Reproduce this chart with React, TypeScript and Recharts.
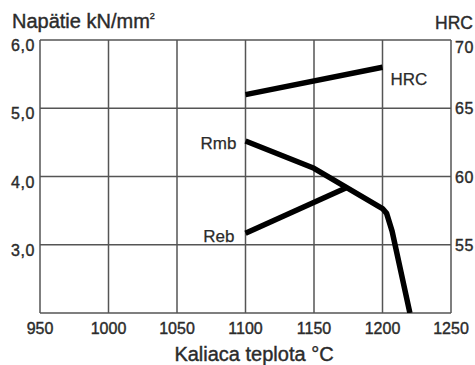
import {
  CartesianGrid,
  ComposedChart,
  LabelList,
  Line,
  XAxis,
  YAxis,
} from 'recharts';

// Kaliaca teplota (°C) vs. napätie Rmb / Reb (kN/mm²) a tvrdosť HRC
const xTicks = [950, 1000, 1050, 1100, 1150, 1200, 1250];
const leftTicks = [2, 3, 4, 5, 6];
const rightTicks = [50, 55, 60, 65, 70];

const hrcTemp = [1100, 1200];
const hrcValue = [66, 68];

const rmbTemp = [1100, 1150, 1200, 1203, 1207, 1220];
const rmbValue = [4.52, 4.12, 3.53, 3.46, 3.2, 2.0];

const rebTemp = [1100, 1174];
const rebValue = [3.17, 3.84];

const hrc = hrcTemp.map((t, i) => ({ t, v: hrcValue[i] }));
const rmb = rmbTemp.map((t, i) => ({ t, v: rmbValue[i] }));
const reb = rebTemp.map((t, i) => ({ t, v: rebValue[i] }));

const font = '"Liberation Sans", Arial, Helvetica, sans-serif';
const ink = '#2b2b2b';
// trochu hrubšie písmo ako v predlohe
const txt = { fontFamily: font, fill: ink, stroke: ink, strokeWidth: 0.4 };

const LeftTick = (props: any) => {
  const { x, y, payload } = props;
  if (payload.value === 2) return null;
  return (
    <text x={x} y={y + 11} textAnchor="end" fontSize={16} letterSpacing={0.6} {...txt}>
      {payload.value.toFixed(1).replace('.', ',')}
    </text>
  );
};

const RightTick = (props: any) => {
  const { x, y, payload } = props;
  if (payload.value === 50) return null;
  const dy = payload.value === 70 ? 13 : 6;
  return (
    <text x={x} y={y + dy} textAnchor="start" fontSize={16} letterSpacing={0.6} {...txt}>
      {payload.value}
    </text>
  );
};

const BottomTick = (props: any) => {
  const { x, y, payload } = props;
  return (
    <text x={x} y={y + 21} textAnchor="middle" fontSize={16} {...txt}>
      {payload.value}
    </text>
  );
};

const edgeLabel = (text: string, where: 'first' | 'last', count: number, dx: number, dy: number) =>
  (props: any) => {
    const { x, y, index } = props;
    const want = where === 'first' ? 0 : count - 1;
    if (index !== want) return null;
    return (
      <text
        x={x + dx}
        y={y + dy}
        textAnchor={where === 'first' ? 'end' : 'start'}
        fontSize={17}
        {...txt}
        strokeWidth={0.25}
      >
        {text}
      </text>
    );
  };

export default function App() {
  return (
    <div style={{ position: 'absolute', left: 0, top: 0, width: 475, height: 365, background: '#fff' }}>
      <ComposedChart
        width={475}
        height={365}
        margin={{ top: 40, right: 0, bottom: 0, left: 0 }}
        style={{ position: 'absolute', left: 0, top: 0 }}
      >
        <CartesianGrid stroke="#555" strokeWidth={1.5} horizontalValues={leftTicks} verticalValues={xTicks} yAxisId="left" />
        <XAxis
          type="number"
          dataKey="t"
          domain={[950, 1250]}
          ticks={xTicks}
          tick={<BottomTick />}
          tickLine={false}
          axisLine={false}
          tickSize={0}
          tickMargin={0}
          height={52}
          allowDataOverflow
        />
        <YAxis
          yAxisId="left"
          type="number"
          domain={[2, 6]}
          ticks={leftTicks}
          tick={<LeftTick />}
          tickLine={false}
          axisLine={false}
          tickSize={0}
          tickMargin={5}
          width={40}
          allowDataOverflow
        />
        <YAxis
          yAxisId="right"
          orientation="right"
          type="number"
          domain={[50, 70]}
          ticks={rightTicks}
          tick={<RightTick />}
          tickLine={false}
          axisLine={false}
          tickSize={0}
          tickMargin={4}
          width={24}
          allowDataOverflow
        />
        <Line
          yAxisId="right"
          data={hrc}
          dataKey="v"
          type="linear"
          stroke="#000"
          strokeWidth={5.5}
          dot={false}
          isAnimationActive={false}
        >
          <LabelList dataKey="v" content={edgeLabel('HRC', 'last', hrc.length, 8, 18)} />
        </Line>
        <Line
          yAxisId="left"
          data={rmb}
          dataKey="v"
          type="linear"
          stroke="#000"
          strokeWidth={5.5}
          strokeLinejoin="round"
          dot={false}
          isAnimationActive={false}
        >
          <LabelList dataKey="v" content={edgeLabel('Rmb', 'first', rmb.length, -9, 8)} />
        </Line>
        <Line
          yAxisId="left"
          data={reb}
          dataKey="v"
          type="linear"
          stroke="#000"
          strokeWidth={5.5}
          dot={false}
          isAnimationActive={false}
        >
          <LabelList dataKey="v" content={edgeLabel('Reb', 'first', reb.length, -11, 9)} />
        </Line>
      </ComposedChart>
      <svg
        width={475}
        height={365}
        style={{ position: 'absolute', left: 0, top: 0, pointerEvents: 'none' }}
      >
        <text x={12} y={28} fontSize={20} {...txt}>
          Napätie kN/mm<tspan fontSize={9} dy={-9}>2</tspan>
        </text>
        <text x={435} y={29} fontSize={17.5} {...txt}>
          HRC
        </text>
        <text x={254} y={361} fontSize={20} textAnchor="middle" {...txt}>
          Kaliaca teplota °C
        </text>
      </svg>
    </div>
  );
}
